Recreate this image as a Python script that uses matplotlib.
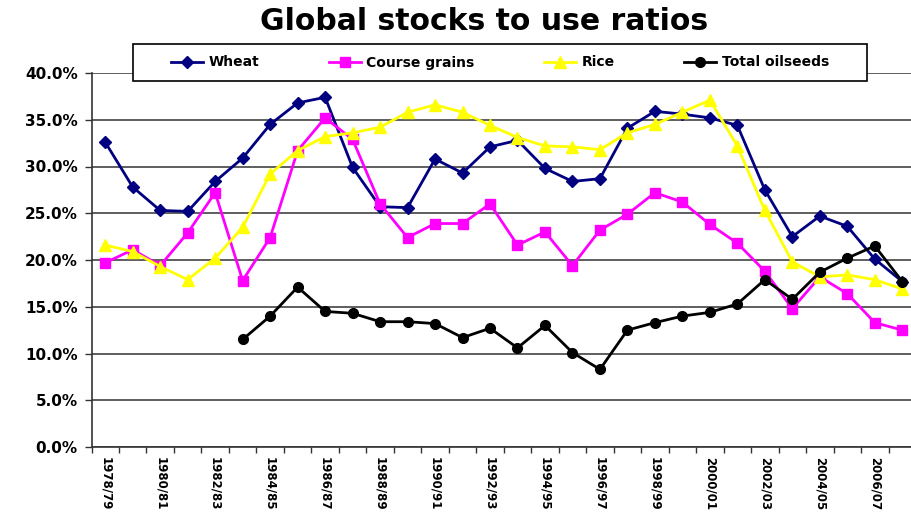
import matplotlib
matplotlib.use("Agg")
import matplotlib.pyplot as plt
from matplotlib.patches import Rectangle
from matplotlib.ticker import FuncFormatter, FixedLocator
import numpy as np

years = ["1978/79", "1979/80", "1980/81", "1981/82", "1982/83", "1983/84", "1984/85",
         "1985/86", "1986/87", "1987/88", "1988/89", "1989/90", "1990/91", "1991/92",
         "1992/93", "1993/94", "1994/95", "1995/96", "1996/97", "1997/98", "1998/99",
         "1999/00", "2000/01", "2001/02", "2002/03", "2003/04", "2004/05", "2005/06",
         "2006/07", "2007/08"]

wheat = [32.6, 27.8, 25.3, 25.2, 28.4, 30.9, 34.5, 36.8, 37.4, 29.9,
         25.7, 25.6, 30.8, 29.3, 32.1, 32.8, 29.8, 28.4, 28.7, 34.1,
         35.9, 35.6, 35.2, 34.4, 27.5, 22.5, 24.7, 23.6, 20.1, 17.7]

course_grains = [19.7, 21.1, 19.4, 22.9, 27.2, 17.8, 22.4, 31.7, 35.2, 32.9,
                 26.0, 22.4, 23.9, 23.9, 26.0, 21.6, 23.0, 19.4, 23.2, 24.9,
                 27.2, 26.2, 23.8, 21.8, 18.8, 14.8, 18.2, 16.4, 13.3, 12.5]

rice = [21.6, 20.9, 19.3, 17.9, 20.2, 23.5, 29.2, 31.7, 33.2, 33.6,
        34.2, 35.8, 36.6, 35.8, 34.4, 33.1, 32.2, 32.1, 31.8, 33.6,
        34.5, 35.8, 37.1, 32.2, 25.3, 19.8, 18.2, 18.4, 17.9, 16.9]

oilseeds = [None, None, None, None, None, 11.5, 14.0, 17.1, 14.5, 14.3,
            13.4, 13.4, 13.2, 11.7, 12.7, 10.6, 13.0, 10.1, 8.3, 12.5,
            13.3, 14.0, 14.4, 15.3, 17.9, 15.8, 18.7, 20.2, 21.5, 17.7]

y_ticks = [0, 5, 10, 15, 20, 25, 30, 35, 40]

def to_arr(v):
    return np.array([np.nan if a is None else a / 100.0 for a in v])

plt.rcParams['font.family'] = ['DejaVu Sans']
plt.rcParams['font.weight'] = 'bold'

fig = plt.figure(figsize=(9.12, 5.12), dpi=100)
W, H = 912.0, 512.0
ax_left, ax_right = 91.5, 916.0
ax_top, ax_bot = 73.0, 447.0
ax = fig.add_axes([ax_left / W, (H - ax_bot) / H, (ax_right - ax_left) / W, (ax_bot - ax_top) / H])

x = np.arange(len(years))
ax.plot(x, to_arr(wheat), color="#000080", marker="D", markersize=6, lw=2, label="Wheat", zorder=3)
ax.plot(x, to_arr(course_grains), color="#FF00FF", marker="s", markersize=7, lw=2, label="Course grains", zorder=3)
ax.plot(x, to_arr(rice), color="#FFFF00", marker="^", markersize=8, lw=2, label="Rice", zorder=3)
ax.plot(x, to_arr(oilseeds), color="black", marker="o", markersize=7, lw=2, label="Total oilseeds", zorder=4)

ax.set_xlim(-0.5, len(years) - 0.5)
ax.set_ylim(0, 0.40)
ax.set_yticks([t / 100 for t in y_ticks])
ax.yaxis.set_major_formatter(FuncFormatter(lambda v, p: f"{v*100:.1f}%"))
ax.grid(axis="y", color="#333333", lw=1.1)
ax.set_axisbelow(True)

# x ticks at category boundaries, labels every other category
ax.xaxis.set_major_locator(FixedLocator(np.arange(-0.5, len(years), 1.0)))
ax.xaxis.set_major_formatter(plt.NullFormatter())
ax.set_xticks(x[::2], minor=True)
ax.set_xticklabels(years[::2], minor=True, rotation=270, fontsize=8.5, fontweight="bold")
ax.tick_params(axis="x", which="minor", length=0, pad=7)
ax.tick_params(axis="x", which="major", length=4, width=1, color="#333333")
ax.tick_params(axis="y", length=5, width=1, labelsize=11, pad=5, color="#333333")
for lbl in ax.get_yticklabels():
    lbl.set_fontweight("bold")

for s in ["top", "right"]:
    ax.spines[s].set_visible(False)
ax.spines["left"].set_color("#333333")
ax.spines["bottom"].set_color("#333333")
ax.spines["left"].set_linewidth(1.2)
ax.spines["bottom"].set_linewidth(1.2)

fig.text(484 / W, (H - 21) / H, "Global stocks to use ratios", ha="center", va="center",
         fontsize=21.5, fontweight="bold")

# legend frame
lx0, lx1, ly0, ly1 = 133, 867, 44, 81
rect = Rectangle((lx0 / W, (H - ly1) / H), (lx1 - lx0) / W, (ly1 - ly0) / H,
                 transform=fig.transFigure, facecolor="white", edgecolor="black", lw=1.2, zorder=2)
fig.patches.append(rect)
leg = fig.legend(loc="center", bbox_to_anchor=((lx0 + lx1) / 2 / W, (H - (ly0 + ly1) / 2) / H),
                 ncol=4, frameon=False, columnspacing=5.0, handlelength=2.3,
                 handletextpad=0.4, prop={"weight": "bold", "size": 10})
leg.set_zorder(5)

fig.savefig("out.png", dpi=100)
